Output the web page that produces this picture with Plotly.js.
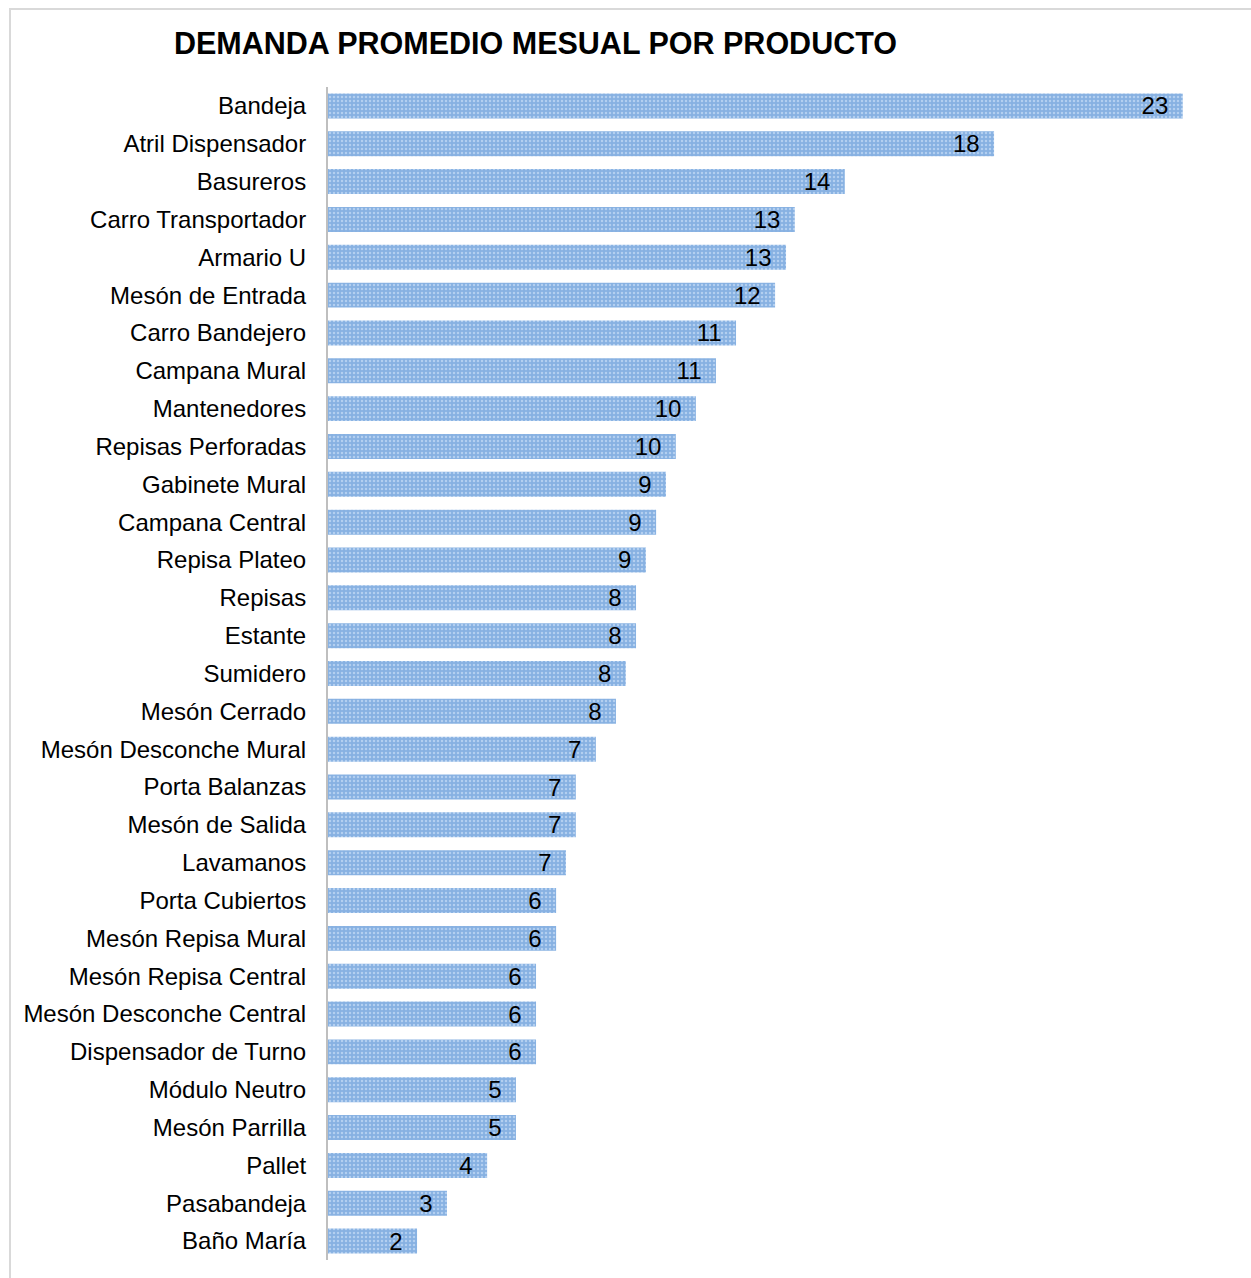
<!DOCTYPE html>
<html>
<head>
<meta charset="utf-8">
<script src="https://cdn.plot.ly/plotly-3.0.1.min.js"></script>
<style>
  html, body { margin: 0; padding: 0; background: #ffffff; }
  #frame { position: absolute; left: 9px; top: 8px; width: 1260px; height: 1290px;
           border-left: 2px solid #d9d9d9; border-top: 2px solid #d9d9d9; }
  #chart { position: absolute; left: 0; top: 0; width: 1251px; height: 1278px; }
</style>
</head>
<body>
<div id="frame"></div>
<div id="chart"></div>
<script>
const chartTitle = "DEMANDA PROMEDIO MESUAL POR PRODUCTO";

const products = [
  "Bandeja", "Atril Dispensador", "Basureros", "Carro Transportador", "Armario U",
  "Mesón de Entrada", "Carro Bandejero", "Campana Mural", "Mantenedores",
  "Repisas Perforadas", "Gabinete Mural", "Campana Central", "Repisa Plateo",
  "Repisas", "Estante", "Sumidero", "Mesón Cerrado", "Mesón Desconche Mural",
  "Porta Balanzas", "Mesón de Salida", "Lavamanos", "Porta Cubiertos",
  "Mesón Repisa Mural", "Mesón Repisa Central", "Mesón Desconche Central",
  "Dispensador de Turno", "Módulo Neutro", "Mesón Parrilla", "Pallet",
  "Pasabandeja", "Baño María"
];

const demand = [
  23.42, 18.25, 14.16, 12.79, 12.55,
  12.25, 11.18, 10.63, 10.08,
  9.53, 9.26, 8.99, 8.71,
  8.44, 8.44, 8.16, 7.89, 7.34,
  6.79, 6.79, 6.52, 6.25,
  6.25, 5.70, 5.70,
  5.70, 5.15, 5.15, 4.36,
  3.26, 2.44
];

const trace = {
  type: "bar",
  orientation: "h",
  y: products,
  x: demand,
  width: 0.66,
  marker: {
    color: "#87b1e2",
    line: { width: 0 },
    pattern: { shape: ".", fgcolor: "#b3cff0", bgcolor: "#87b1e2", size: 4, solidity: 0.3 }
  },
  texttemplate: "%{x:.0f}\u00a0\u2009",
  textposition: "inside",
  insidetextanchor: "end",
  textangle: 0,
  constraintext: "none",
  textfont: { family: "Liberation Sans, Arial, sans-serif", size: 24, color: "#000000" },
  hoverinfo: "skip"
};

const layout = {
  width: 1251,
  height: 1278,
  paper_bgcolor: "rgba(0,0,0,0)",
  plot_bgcolor: "rgba(0,0,0,0)",
  margin: { l: 328, r: 23, t: 87, b: 18 },
  showlegend: false,
  title: {
    text: "<b>" + chartTitle + "</b>",
    x: 535.5 / 1251, xanchor: "center",
    y: 1 - 43 / 1278, yanchor: "middle",
    font: { family: "Liberation Sans, Arial, sans-serif", size: 30.5, color: "#000000" }
  },
  xaxis: {
    range: [0, 24.66],
    showgrid: false, zeroline: false, showticklabels: false, showline: false, ticks: ""
  },
  yaxis: {
    type: "category",
    autorange: "reversed",
    showgrid: false, zeroline: false,
    showline: true, linecolor: "#bfbfbf", linewidth: 2,
    ticks: "", ticklabelstandoff: 15,
    tickfont: { family: "Liberation Sans, Arial, sans-serif", size: 24, color: "#000000" }
  },
  font: { family: "Liberation Sans, Arial, sans-serif" }
};

Plotly.newPlot("chart", [trace], layout, { staticPlot: true, displayModeBar: false });
</script>
</body>
</html>
